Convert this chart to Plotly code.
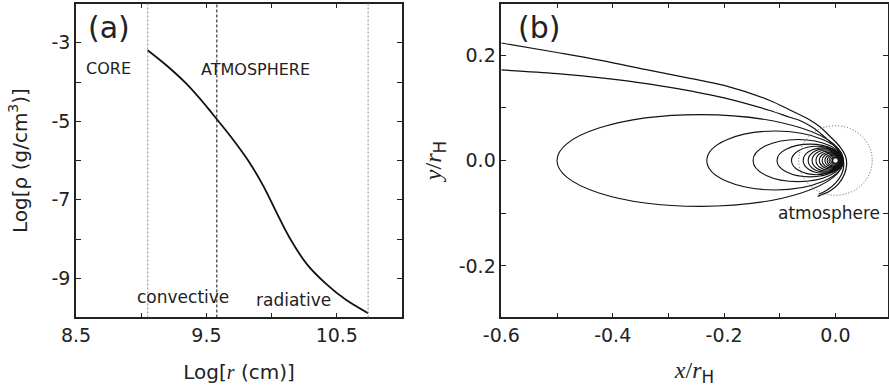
import plotly.graph_objects as go

# ---------------- Panel (a): density profile ----------------
log_r = [9.049, 9.195, 9.348, 9.50, 9.58, 9.705, 9.82, 9.935, 10.04, 10.14, 10.27, 10.42, 10.57, 10.74]
log_rho = [-3.19, -3.58, -4.05, -4.62, -4.95, -5.47, -6.00, -6.64, -7.34, -7.98, -8.64, -9.15, -9.55, -9.89]
boundary_x = [9.05, 9.58, 10.74]
boundary_color = ["#888888", "#111111", "#888888"]
boundary_dash = ["2px,2px", "3px,2px", "2px,2px"]

a_xticks = [8.5, 9.0, 9.5, 10.0, 10.5, 11.0]
a_xtext = ["8.5", "", "9.5", "", "10.5", ""]
a_yticks = [-10, -9, -8, -7, -6, -5, -4, -3, -2]
a_ytext = ["", "-9", "", "-7", "", "-5", "", "-3", ""]

# ---------------- Panel (b): streamlines ----------------
curveA_x = [-0.600, -0.500, -0.421, -0.333, -0.261, -0.200, -0.118, -0.082, -0.046, -0.028, -0.010, 0.008, 0.018, 0.020, 0.016, 0.005, -0.010, -0.032]
curveA_y = [0.223, 0.205, 0.190, 0.171, 0.156, 0.1425, 0.114, 0.096, 0.077, 0.064, 0.046, 0.026, 0.008, -0.008, -0.026, -0.045, -0.058, -0.068]
curveB_x = [-0.600, -0.500, -0.421, -0.333, -0.261, -0.200, -0.118, -0.082, -0.064, -0.040, -0.020, 0.000, 0.012, 0.015, 0.011, 0.000, -0.015, -0.030]
curveB_y = [0.172, 0.165, 0.157, 0.145, 0.132, 0.119, 0.095, 0.082, 0.076, 0.062, 0.045, 0.026, 0.008, -0.008, -0.026, -0.043, -0.056, -0.064]

orbit_left = [-0.500, -0.231, -0.148, -0.105, -0.079, -0.058, -0.049, -0.042, -0.035, -0.029, -0.024, -0.019, -0.015, -0.0115, -0.0084]
orbit_right = [0.014, 0.014, 0.013, 0.013, 0.012, 0.012, 0.011, 0.011, 0.010, 0.010, 0.009, 0.009, 0.008, 0.007, 0.006]
orbit_half = [0.087, 0.056, 0.040, 0.031, 0.027, 0.024, 0.022, 0.020, 0.018, 0.016, 0.014, 0.012, 0.0102, 0.0085, 0.0065]

atm_radius = 0.066
planet_x = [0.0]
planet_y = [0.0]

b_xticks = [-0.6, -0.5, -0.4, -0.3, -0.2, -0.1, 0.0]
b_xtext = ["-0.6", "", "-0.4", "", "-0.2", "", "0.0"]
b_yticks = [-0.3, -0.2, -0.1, 0.0, 0.1, 0.2, 0.3]
b_ytext = ["", "-0.2", "", "0.0", "", "0.2", ""]

FONT = "DejaVu Sans"
INK = "#222222"
SERIF = "font-family:'Liberation Serif','Times New Roman',serif"

fig = go.Figure()

fig.add_trace(go.Scatter(x=log_r, y=log_rho, mode="lines",
                         line=dict(color="#111111", width=1.8, shape="spline", smoothing=1.0),
                         xaxis="x", yaxis="y", showlegend=False, hoverinfo="skip"))
for bx, bc, bd in zip(boundary_x, boundary_color, boundary_dash):
    fig.add_shape(type="line", xref="x", yref="y domain", x0=bx, x1=bx, y0=0, y1=1,
                  line=dict(color=bc, width=1, dash=bd))

fig.add_trace(go.Scatter(x=curveA_x, y=curveA_y, mode="lines", line=dict(color="#111111", width=1.2, shape="spline"),
                         xaxis="x2", yaxis="y2", showlegend=False, hoverinfo="skip"))
fig.add_trace(go.Scatter(x=curveB_x, y=curveB_y, mode="lines", line=dict(color="#111111", width=1.2, shape="spline"),
                         xaxis="x2", yaxis="y2", showlegend=False, hoverinfo="skip"))
for xl, xr, h in zip(orbit_left, orbit_right, orbit_half):
    fig.add_shape(type="circle", xref="x2", yref="y2", x0=xl, x1=xr, y0=-h, y1=h,
                  line=dict(color="#111111", width=1.1))
fig.add_shape(type="circle", xref="x2", yref="y2", x0=-atm_radius, x1=atm_radius, y0=-atm_radius, y1=atm_radius,
              line=dict(color="#555555", width=1, dash="1px,2px"))
fig.add_trace(go.Scatter(x=planet_x, y=planet_y, mode="markers",
                         marker=dict(size=6, color="white", line=dict(color="#111111", width=1.5)),
                         xaxis="x2", yaxis="y2", showlegend=False, hoverinfo="skip"))

common = dict(showline=True, linecolor=INK, linewidth=1.5, mirror="allticks", ticks="inside",
              ticklen=5, tickwidth=1, tickcolor=INK, showgrid=False, zeroline=False,
              tickfont=dict(family=FONT, size=19, color=INK), automargin=False)

ydom = [0.1859, 0.991]
fig.update_layout(
    width=889, height=390,
    margin=dict(l=0, r=0, t=0, b=0),
    paper_bgcolor="white", plot_bgcolor="white",
    xaxis=dict(domain=[0.0855, 0.4522], range=[8.5, 11.0], anchor="y",
               tickmode="array", tickvals=a_xticks, ticktext=a_xtext,
               title=dict(text=f"Log[<span style=\"{SERIF}\"><i>r</i></span> (cm)]",
                          font=dict(family=FONT, size=20, color=INK), standoff=20), **common),
    yaxis=dict(domain=ydom, range=[-10, -2], anchor="x",
               tickmode="array", tickvals=a_yticks, ticktext=a_ytext,
               title=dict(text="Log[ρ (g/cm<sup>3</sup>)]",
                          font=dict(family=FONT, size=20, color=INK), standoff=19), **common),
    xaxis2=dict(domain=[0.5639, 0.9985], range=[-0.6, 0.0937], anchor="y2",
                tickmode="array", tickvals=b_xticks, ticktext=b_xtext,
                title=dict(text=f"<span style=\"{SERIF}\"><i>x</i>/<i>r</i></span><sub>H</sub>",
                           font=dict(family=FONT, size=24, color=INK), standoff=16), **common),
    yaxis2=dict(domain=ydom, range=[-0.298, 0.298], anchor="x2",
                tickmode="array", tickvals=b_yticks, ticktext=b_ytext,
                title=dict(text=f"<span style=\"{SERIF}\"><i>y</i>/<i>r</i></span><sub>H</sub>",
                           font=dict(family=FONT, size=24, color=INK), standoff=10), **common),
)

ann = [
    dict(x=8.577, y=-2.6, xref="x", yref="y", text="(a)", xanchor="left", yanchor="middle", size=30),
    dict(x=8.753, y=-3.66, xref="x", yref="y", text="CORE", xanchor="center", yanchor="middle", size=16),
    dict(x=9.875, y=-3.68, xref="x", yref="y", text="ATMOSPHERE", xanchor="center", yanchor="middle", size=16),
    dict(x=9.324, y=-9.47, xref="x", yref="y", text="convective", xanchor="center", yanchor="middle", size=17),
    dict(x=10.17, y=-9.55, xref="x", yref="y", text="radiative", xanchor="center", yanchor="middle", size=17),
    dict(x=-0.574, y=0.252, xref="x2", yref="y2", text="(b)", xanchor="left", yanchor="middle", size=30),
    dict(x=-0.012, y=-0.1, xref="x2", yref="y2", text="atmosphere", xanchor="center", yanchor="middle", size=17),
]
for a in ann:
    fig.add_annotation(x=a["x"], y=a["y"], xref=a["xref"], yref=a["yref"], text=a["text"],
                       xanchor=a["xanchor"], yanchor=a["yanchor"], showarrow=False,
                       font=dict(family=FONT, size=a["size"], color=INK), bgcolor="rgba(0,0,0,0)")

fig.write_html("out.html", config={"displayModeBar": False},
               post_script="document.body.style.margin='0px';document.body.style.overflow='hidden';")
